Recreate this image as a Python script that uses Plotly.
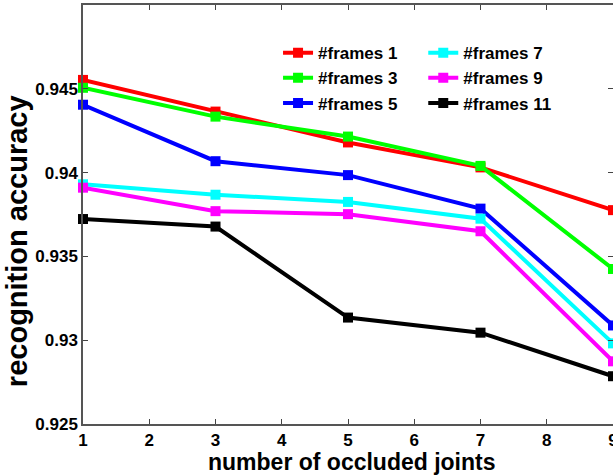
import plotly.graph_objects as go

x_joints = [1, 3, 5, 7, 9]
series_names = ["#frames 1", "#frames 3", "#frames 5", "#frames 7", "#frames 9", "#frames 11"]
frames_1 = [0.94553, 0.94364, 0.94180, 0.94031, 0.93776]
frames_3 = [0.94506, 0.94334, 0.94215, 0.94040, 0.93425]
frames_5 = [0.94405, 0.94068, 0.93985, 0.93785, 0.93088]
frames_7 = [0.93930, 0.93868, 0.93825, 0.93725, 0.92981]
frames_9 = [0.93910, 0.93770, 0.93752, 0.93650, 0.92874]
frames_11 = [0.93723, 0.93678, 0.93135, 0.93045, 0.92785]
colors = ["#ff0000", "#00ff00", "#0000ff", "#00ffff", "#ff00ff", "#000000"]
values = [frames_1, frames_3, frames_5, frames_7, frames_9, frames_11]
legend_ids = ["legend", "legend", "legend", "legend2", "legend2", "legend2"]
x_title = "number of occluded joints"
y_title = "recognition accuracy"

FONT = "Arial, 'Liberation Sans', sans-serif"

fig = go.Figure()
for name, ys, c, lg in zip(series_names, values, colors, legend_ids):
    fig.add_trace(go.Scatter(
        x=x_joints, y=ys, name=name, mode="lines+markers",
        line=dict(color=c, width=4),
        marker=dict(symbol="square", size=10, color=c),
        legend=lg, cliponaxis=False,
    ))

axis_common = dict(
    showgrid=False, zeroline=False, showline=True, mirror="ticks",
    linecolor="#555555", linewidth=1.5, ticks="inside", ticklen=5,
    tickcolor="#444444", automargin=False, ticklabeloverflow="allow",
    tickfont=dict(family=FONT, size=17, color="black", weight="bold"),
)

legend_font = dict(family=FONT, size=17, color="black", weight="bold")

fig.update_layout(
    width=613, height=475,
    margin=dict(l=83, r=0, t=5, b=51),
    plot_bgcolor="white", paper_bgcolor="white",
    font=dict(family=FONT, color="black"),
    xaxis=dict(range=[1, 9], tickvals=[1, 2, 3, 4, 5, 6, 7, 8, 9], **axis_common),
    yaxis=dict(range=[0.925, 0.95], tickvals=[0.925, 0.93, 0.935, 0.94, 0.945],
               ticktext=["0.925", "0.93", "0.935", "0.94", "0.945"], **axis_common),
    legend=dict(x=0.368, y=0.928, xanchor="left", yanchor="top",
                bgcolor="rgba(0,0,0,0)", tracegroupgap=0, itemwidth=30,
                font=legend_font),
    legend2=dict(x=0.642, y=0.928, xanchor="left", yanchor="top",
                 bgcolor="rgba(0,0,0,0)", tracegroupgap=0, itemwidth=30,
                 font=legend_font),
    showlegend=True,
    annotations=[
        dict(text=x_title, xref="paper", yref="paper", x=0.507, y=-0.09,
             xanchor="center", yanchor="middle", showarrow=False,
             font=dict(family=FONT, size=23, color="black", weight="bold")),
        dict(text=y_title, xref="paper", yref="paper", x=-0.123, y=0.436,
             xanchor="center", yanchor="middle", showarrow=False, textangle=-90,
             font=dict(family=FONT, size=29, color="black", weight="bold")),
    ],
)

fig.write_html(
    "out.html",
    config={"displayModeBar": False},
    post_script="document.body.style.margin='0';document.body.style.overflow='hidden';",
)
